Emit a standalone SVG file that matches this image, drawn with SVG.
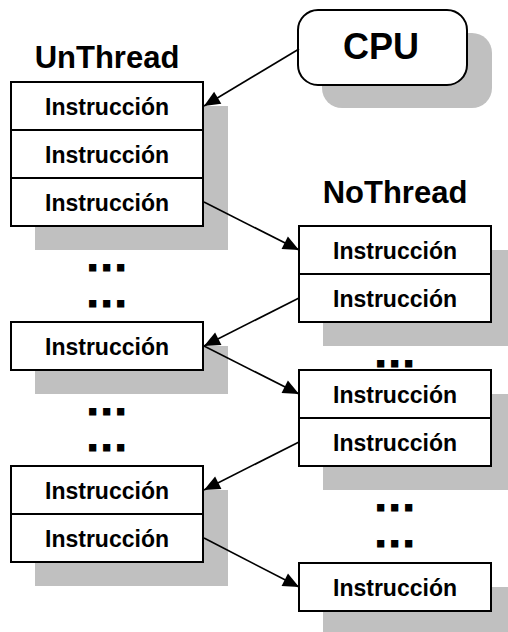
<svg xmlns="http://www.w3.org/2000/svg" width="508" height="632" viewBox="0 0 508 632">
<style>
.sh{fill:#c0c0c0;stroke:none}
.bx{fill:#fff;stroke:#000;stroke-width:2}
.dv{stroke:#000;stroke-width:2}
.t{font-family:"Liberation Sans",Arial,sans-serif;font-weight:bold;font-size:23px;text-anchor:middle;fill:#000}
.h{font-family:"Liberation Sans",Arial,sans-serif;font-weight:bold;font-size:31px;text-anchor:middle;fill:#000}
.d{font-family:"Liberation Sans",Arial,sans-serif;font-weight:bold;font-size:30px;letter-spacing:5.7px;fill:#000;stroke:#000;stroke-width:3;stroke-linejoin:miter}
.c{stroke:#000;stroke-width:1.6;fill:none;marker-end:url(#ah)}
</style>
<defs>
<marker id="ah" markerUnits="userSpaceOnUse" markerWidth="18" markerHeight="16" viewBox="0 -8 17 16" refX="16" refY="0" orient="auto">
<path d="M0,-7 L16,0 L0,7 z" fill="#000"/>
</marker>
</defs>
<rect width="508" height="632" fill="#fff"/>

<g id="cpu">
<rect class="sh" x="322" y="33" width="170" height="75" rx="20"/>
<rect class="bx" x="298" y="10" width="169" height="75" rx="20"/>
<text class="h" x="381" y="59" style="font-size:36px">CPU</text>
</g>

<g id="unthread-label"><text class="h" x="107" y="68">UnThread</text></g>
<g id="nothread-label"><text class="h" x="395" y="203">NoThread</text></g>

<g id="left-a">
<rect class="sh" x="35" y="106" width="193" height="144"/>
<rect class="bx" x="11" y="82" width="192" height="144"/>
<line class="dv" x1="11" y1="130" x2="203" y2="130"/>
<line class="dv" x1="11" y1="178" x2="203" y2="178"/>
<text class="t" x="107" y="115">Instrucción</text>
<text class="t" x="107" y="163">Instrucción</text>
<text class="t" x="107" y="211">Instrucción</text>
</g>

<g id="left-b">
<rect class="sh" x="35" y="346" width="193" height="48"/>
<rect class="bx" x="11" y="322" width="192" height="48"/>
<text class="t" x="107" y="355">Instrucción</text>
</g>

<g id="left-c">
<rect class="sh" x="35" y="490" width="193" height="96"/>
<rect class="bx" x="11" y="466" width="192" height="96"/>
<line class="dv" x1="11" y1="514" x2="203" y2="514"/>
<text class="t" x="107" y="499">Instrucción</text>
<text class="t" x="107" y="547">Instrucción</text>
</g>

<g id="right-d">
<rect class="sh" x="323" y="250" width="193" height="96"/>
<rect class="bx" x="299" y="226" width="192" height="96"/>
<line class="dv" x1="299" y1="274" x2="491" y2="274"/>
<text class="t" x="395" y="259">Instrucción</text>
<text class="t" x="395" y="307">Instrucción</text>
</g>

<g id="right-e">
<rect class="sh" x="323" y="394" width="193" height="96"/>
<rect class="bx" x="299" y="370" width="192" height="96"/>
<line class="dv" x1="299" y1="418" x2="491" y2="418"/>
<text class="t" x="395" y="403">Instrucción</text>
<text class="t" x="395" y="451">Instrucción</text>
</g>

<g id="right-f">
<rect class="sh" x="323" y="587" width="193" height="48"/>
<rect class="bx" x="299" y="563" width="192" height="48"/>
<text class="t" x="395" y="596">Instrucción</text>
</g>

<g id="ellipses">
<text class="d" x="88.5" y="269.5">...</text>
<text class="d" x="88.5" y="305.5">...</text>
<text class="d" x="88.5" y="413.5">...</text>
<text class="d" x="88.5" y="449.5">...</text>
<text class="d" x="376.5" y="365.5">...</text>
<text class="d" x="376.5" y="509.5">...</text>
<text class="d" x="376.5" y="545.5">...</text>
</g>

<g id="connectors">
<line class="c" x1="299" y1="49" x2="204" y2="106"/>
<line class="c" x1="204" y1="202" x2="299" y2="250"/>
<line class="c" x1="299" y1="298" x2="204" y2="346"/>
<line class="c" x1="204" y1="346" x2="299" y2="394"/>
<line class="c" x1="299" y1="442" x2="204" y2="490"/>
<line class="c" x1="204" y1="538" x2="299" y2="587"/>
</g>
</svg>
